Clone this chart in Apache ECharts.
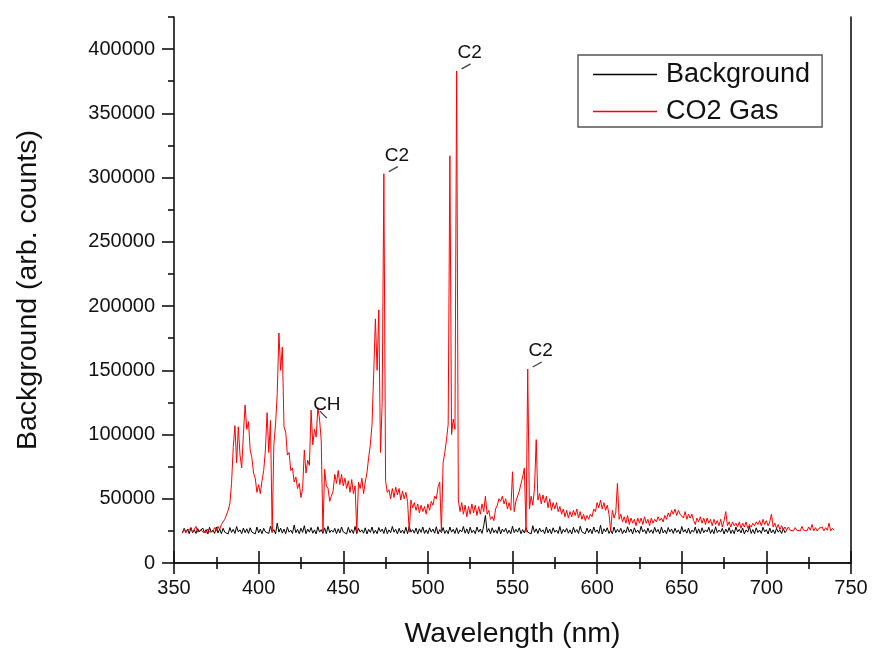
<!DOCTYPE html>
<html><head><meta charset="utf-8">
<script src="https://cdn.jsdelivr.net/npm/echarts@6/dist/echarts.min.js"></script>
<style>html,body{margin:0;padding:0;background:#fff}#c{width:873px;height:654px}</style>
</head><body><div id="c"></div>
<script>
// Background spectrum: 1 nm steps from 355 nm, values in thousands of counts
const bgStartNm = 355;
const bgCountsK = [
23.2,27,24,26.2,22.8,27.6,23.6,25.8,23,26.8,
24.2,22.8,27.2,23.4,26,22.6,27.8,24,25.6,23,
28,23.4,26.4,22.8,27,24,25.4,22.6,27.6,23.8,
26.2,23,28.4,24.2,25.8,22.8,27.2,23.6,26.6,23,
27.4,24,25.2,22.6,28,23.4,26.4,22.8,27,24.2,
25.6,23,28.6,23.8,26,22.6,31,24,27.2,23.2,
26.4,22.8,27.8,24,25.6,23,29.5,23.6,26.2,22.8,
27,23.8,29,22.8,26.4,24,27.6,23.2,25.8,22.6,
28.2,24,26,23,27.4,22.8,28.6,23.6,25.6,24,
27,22.8,26.6,23.4,28,24.2,25.4,22.6,27.8,23.6,
26,23,28.4,22.8,27,24,25.8,23.2,27.4,22.6,
26.2,23.8,28,23,25.6,22.8,27.6,24.2,26.4,23,
27.8,22.8,25.8,23.6,28.4,24,26.2,22.6,27,23.4,
25.6,23,27.8,22.8,28.8,24,26,23.2,27.2,22.6,
26.6,23.8,28,23,25.8,22.8,27.4,24,26.4,23.2,
28.2,22.6,26,23.6,27.6,23,25.6,22.8,28,24,
26.2,23,27.4,22.8,25.8,24.2,28.4,23.2,26.6,22.6,
27.8,23.6,25.6,22.8,28,24,26.4,23,29,37,
24,26.8,22.8,27.4,23.6,25.8,23,28.2,22.6,26.4,
24.2,27,23,25.6,22.8,28.6,23.6,26.2,24,27.4,
22.8,26,23.4,27.6,24,25.4,22.6,29,23.8,26.6,
23,27.2,24.2,25.8,22.8,28,23.4,26.4,22.6,27.4,
24,25.6,23,28.4,22.8,26.2,24,27,23.2,25.8,
22.6,27.8,23.8,26,23,28.6,24.2,25.6,22.8,27.2,
23.6,26.4,22.8,28,24,25.8,23,29.4,22.6,26.6,
24.2,27.4,23,25.6,22.8,28,23.6,26.2,24,27,
22.8,25.8,23.4,28.2,24,26.4,22.6,27.4,23.8,25.6,
23,28.6,24.2,26,22.8,27.2,23.6,25.8,23,27.8,
24,26.2,22.6,28,23.4,25.6,22.8,27.6,24.2,26.4,
23,27,23.8,25.8,22.6,28.4,24,26,23.2,27.2,
22.8,25.6,24,28,23,26.6,22.8,27.4,23.6,25.8,
24.2,27.8,23,26,22.8,28.2,23.6,25.6,24,27,
22.6,26.4,23.8,27.6,23,25.8,22.8,28,24.2,26.2,
23.4,27.2,22.6,25.8,24,28.4,23,26,22.8,27.4,
23.8,25.6,23,27.8,24.2,26,22.6,27.2,23.4,25.8,
22.8,27,24,25.6,23,26.8,23.6,25.4
];
// CO2 gas spectrum: 1 nm steps from 355 nm, values in thousands of counts
const co2StartNm = 355;
const co2CountsK = [
24,26.5,23.5,25.5,24,27,23.8,25,28.5,24,
23.5,26,24,25.5,23.8,26.5,24,25,24.5,27.5,
25,28.5,26,30,29,34,33,41,46,62,
90,107,78,106,84,74,100,123,104,110,
88,82,70,66,55,61,54,64,72,88,
117,86,111,24,92,108,132,179,150,168,
106,102,84,86,72,74,63,67,58,62,
51,58,88,70,80,76,119,92,104,98,
121,112,95,24,73,60,58,48,52,56,
69,62,72,61,69,60,66,58,64,55,
65,54,60,24,63,58,66,54,63,70,
82,92,108,148,190,150,197,86,125,303,
64,55,57,50,58,51,59,53,58,49,
56,50,55,48,24,49,43,47,41,46,
39,45,40,44,38,46,41,48,45,52,
50,59,63,24,78,86,96,108,317,100,
112,104,383,49,40,47,38,45,36,44,
38,46,39,45,37,44,38,46,40,52,
38,41,34,36,33,42,45,50,48,52,
46,50,42,47,41,71,40,48,47,56,
55,67,74,24,151,42,52,45,58,96,
49,54,46,53,47,52,43,50,41,47,
42,47,40,44,38,42,36,41,35,40,
36,41,37,42,35,40,34,38,33,37,
34,38,36,42,40,47,43,49,42,47,
41,45,38,25,41,35,39,62,34,38,
32,36,31,37,30,35,31,34,29,35,
31,35,30,36,31,34,29,35,31,34,
32,36,33,35,32,37,34,39,36,41,
38,42,37,41,38,39,35,40,34,38,
35,38,33,30,35,32,36,31,35,30,
35,31,34,29,34,30,33,29,34,28,
33,40,29,32,28,32,29,31,28,32,
27,31,28,32,27,30,28,31,29,32,
30,33,29,34,30,33,29,32,38,28,
31,27,30,26,29,26,28,25.5,28,25.5,
27,25,27.5,25.5,27,25,28.5,25.5,27,25,
28,25.5,30,25,27.5,25,27,25.5,28,25,
27.5,25.5,31,25,27,25.5
];
const seriesNames = ['Background', 'CO2 Gas'];
const xTicks = [350, 400, 450, 500, 550, 600, 650, 700, 750];
const yTicks = [0, 50000, 100000, 150000, 200000, 250000, 300000, 350000, 400000];
const yMinorTicks = [25000, 75000, 125000, 175000, 225000, 275000, 325000, 375000, 425000];
const annotations = [
  { text: 'C2', nm: 474, value: 303000, kind: 'c2' },
  { text: 'C2', nm: 517, value: 383000, kind: 'c2' },
  { text: 'C2', nm: 559, value: 151000, kind: 'c2' },
  { text: 'CH', nm: 435, value: 119000, kind: 'ch' }
];

function toPairs(start, valsK) {
  return valsK.map((v, i) => [start + i, v * 1000]);
}

const FONT = "'Liberation Sans', Arial, sans-serif";
const chart = echarts.init(document.getElementById('c'), null, { renderer: 'canvas' });
const axisLine = { show: true, lineStyle: { color: '#111', width: 1.6 } };

chart.setOption({
  animation: false,
  backgroundColor: '#fff',
  grid: { left: 174, right: 22, top: 17, bottom: 91, containLabel: false },
  xAxis: [
    {
      type: 'value', min: xTicks[0], max: xTicks[xTicks.length - 1], interval: 50,
      position: 'bottom',
      name: 'Wavelength (nm)', nameLocation: 'middle', nameGap: 57,
      nameTextStyle: { fontFamily: FONT, fontSize: 28.5, color: '#111' },
      axisLine: axisLine,
      axisTick: { show: true, length: 11, lineStyle: { color: '#111', width: 1.6 } },
      minorTick: { show: true, splitNumber: 2, length: 6, lineStyle: { color: '#111', width: 1.6 } },
      axisLabel: { fontFamily: FONT, fontSize: 20, color: '#111', margin: 15 },
      splitLine: { show: false }
    },
    {
      type: 'value', min: xTicks[0], max: xTicks[xTicks.length - 1], interval: 50,
      position: 'top',
      axisLine: axisLine,
      axisTick: { show: true, length: 12, lineStyle: { color: '#111', width: 1.6 } },
      minorTick: { show: true, splitNumber: 2, length: 6, lineStyle: { color: '#111', width: 1.6 } },
      axisLabel: { show: false },
      splitLine: { show: false }
    }
  ],
  yAxis: [
    {
      type: 'value', min: 0, max: 425000,
      position: 'left',
      name: 'Background (arb. counts)', nameLocation: 'middle', nameGap: 131, nameRotate: 90,
      nameTextStyle: { fontFamily: FONT, fontSize: 28.5, color: '#111' },
      axisLine: axisLine,
      axisTick: { show: true, length: 12, customValues: yTicks, lineStyle: { color: '#111', width: 1.6 } },
      axisLabel: { fontFamily: FONT, fontSize: 20, color: '#111', margin: 19, customValues: yTicks,
        formatter: v => String(v) },
      splitLine: { show: false }
    },
    {
      type: 'value', min: 0, max: 425000,
      position: 'left',
      axisLine: { show: false },
      axisTick: { show: true, length: 6, customValues: yMinorTicks, lineStyle: { color: '#111', width: 1.6 } },
      axisLabel: { show: false },
      splitLine: { show: false }
    },
    {
      type: 'value', min: 0, max: 425000,
      position: 'right',
      axisLine: axisLine,
      axisTick: { show: false },
      axisLabel: { show: false },
      splitLine: { show: false }
    }
  ],
  legend: {
    left: 578, top: 55, orient: 'vertical',
    data: seriesNames,
    icon: 'rect', itemWidth: 64, itemHeight: 1.5, itemGap: 10,
    padding: [6, 12, 2, 15],
    borderColor: '#555', borderWidth: 1.4, backgroundColor: '#fff',
    textStyle: { fontFamily: FONT, fontSize: 27, color: '#111', padding: [0, 0, 0, 4] }
  },
  series: [
    {
      name: seriesNames[0], type: 'line', data: toPairs(bgStartNm, bgCountsK),
      symbol: 'none', showSymbol: false, sampling: null,
      color: '#000', itemStyle: { color: '#000' },
      lineStyle: { color: '#000', width: 1 }, z: 2
    },
    {
      name: seriesNames[1], type: 'line', data: toPairs(co2StartNm, co2CountsK),
      symbol: 'none', showSymbol: false, sampling: null,
      color: '#ff0000', itemStyle: { color: '#ff0000' },
      lineStyle: { color: '#ff0000', width: 1 }, z: 3
    }
  ]
});

// Peak annotations (text + short leader lines), anchored on data coordinates
const graphics = [];
annotations.forEach(a => {
  const p = chart.convertToPixel({ xAxisIndex: 0, yAxisIndex: 0 }, [a.nm, a.value]);
  let tx, ty, l1, l2;
  if (a.kind === 'c2') {
    tx = p[0] + 13; ty = p[1] - 18; l1 = [p[0] + 5, p[1] - 2]; l2 = [p[0] + 14, p[1] - 7];
  } else {
    tx = p[0] + 9; ty = p[1] - 5; l1 = [p[0] + 2, p[1] + 1]; l2 = [p[0] + 9, p[1] + 8];
  }
  graphics.push({
    type: 'text', z: 10,
    style: { text: a.text, x: tx, y: ty, align: 'center', verticalAlign: 'middle',
      font: '19px ' + FONT, fill: '#111' }
  });
  graphics.push({
    type: 'line', z: 10,
    shape: { x1: l1[0], y1: l1[1], x2: l2[0], y2: l2[1] },
    style: { stroke: '#444', lineWidth: 1.4 }
  });
});
chart.setOption({ graphic: graphics });
</script>
</body></html>
